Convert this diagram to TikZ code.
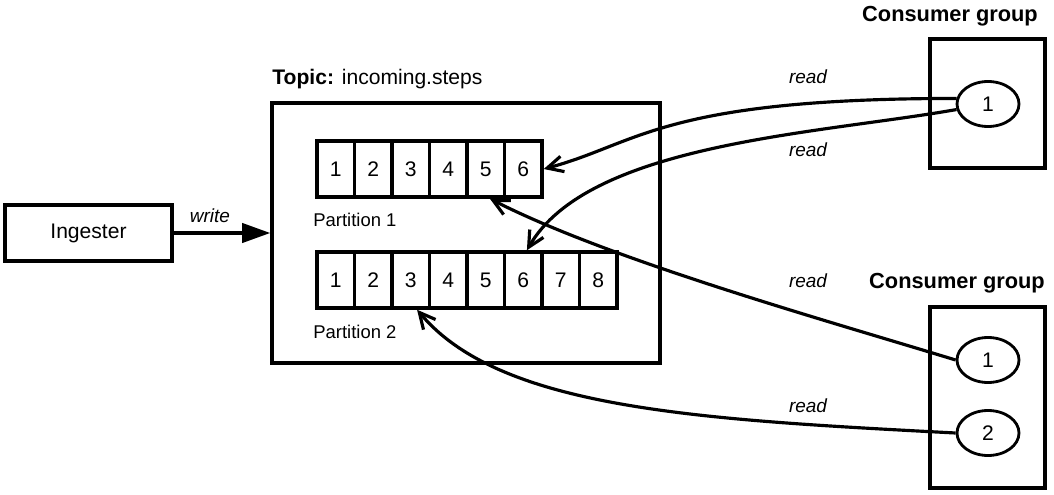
\documentclass[tikz,border=0pt]{standalone}
\usepackage{fontspec}
\setmainfont{Liberation Sans}
\usetikzlibrary{arrows.meta,shapes.geometric}
\begin{document}
\begin{tikzpicture}[x=0.2mm, y=0.2mm]
		\tikzset{box/.style={draw=black, line width=2pt, inner sep=0pt}, cell/.style={box, minimum width=7.5mm, minimum height=11.2mm, font=\fontsize{12}{14}\selectfont}, mem/.style={ellipse, draw=black, line width=1.6pt, minimum width=12.4mm, minimum height=9mm, inner sep=0pt, font=\fontsize{12}{14}\selectfont}, lbl/.style={inner sep=0pt, anchor=base, font=\fontsize{10.8}{13}\selectfont\itshape}, ttl/.style={inner sep=0pt, anchor=base, font=\fontsize{12.4}{15}\selectfont\bfseries}, pname/.style={inner sep=0pt, anchor=base west, font=\fontsize{10.5}{13}\selectfont}, rd/.style={line width=1.8pt, -{Straight Barb[length=9pt, width=9pt]}}};
		\useasboundingbox (0, 0) rectangle (1054, 494);

		\node[box, minimum width=33.4mm, minimum height=11.2mm, font=\fontsize{12}{14}\selectfont] (ing) at (88.5, 261) {Ingester};
		\node[box, minimum width=77.6mm, minimum height=52mm] (topic) at (466, 261) {};
		\node[inner sep=0pt, anchor=base west, font=\fontsize{12}{14}\selectfont] (tname) at (272, 409) {\textbf{Topic:} incoming.steps};

		\node[cell] (p1c1) at (335.75, 325) {1};
		\node[cell] (p1c2) at (373.25, 325) {2};
		\node[cell] (p1c3) at (410.75, 325) {3};
		\node[cell] (p1c4) at (448.25, 325) {4};
		\node[cell] (p1c5) at (485.75, 325) {5};
		\node[cell] (p1c6) at (523.25, 325) {6};
		\node[pname] (p1) at (313, 267) {Partition 1};

		\node[cell] (p2c1) at (335.75, 214) {1};
		\node[cell] (p2c2) at (373.25, 214) {2};
		\node[cell] (p2c3) at (410.75, 214) {3};
		\node[cell] (p2c4) at (448.25, 214) {4};
		\node[cell] (p2c5) at (485.75, 214) {5};
		\node[cell] (p2c6) at (523.25, 214) {6};
		\node[cell] (p2c7) at (560.75, 214) {7};
		\node[cell] (p2c8) at (598.25, 214) {8};
		\node[pname] (p2) at (313, 156) {Partition 2};

		\node[box, minimum width=23mm, minimum height=25.8mm] (g1) at (987.5, 390.5) {};
		\node[ttl] (g1name) at (950, 472) {Consumer group};
		\node[mem] (m1) at (988, 390) {1};

		\node[box, minimum width=23mm, minimum height=36.2mm] (g2) at (987.5, 96.5) {};
		\node[ttl] (g2name) at (957, 206) {Consumer group};
		\node[mem] (n1) at (988, 134) {1};
		\node[mem] (n2) at (988, 61) {2};

		\draw[line width=1.8pt, -{Triangle[length=16pt, width=11pt]}] (ing) -- (topic);
		\node[lbl] (w) at (210, 272) {write};

		\draw[rd] (m1.170) to[out=180, in=15, out looseness=1.8, in looseness=0.6] (p1c6.east);
		\draw[rd] (m1.190) to[out=190, in=60, out looseness=0.8, in looseness=0.7] (p2c6.83);
		\draw[rd] (n1.west) to[out=163, in=-27, looseness=0.7] (p1c5.-82);
		\draw[rd] (n2.west) to[out=177, in=-50, out looseness=1.2, in looseness=0.6] (p2c3.-78);

		\node[lbl] (r1) at (808, 410) {read};
		\node[lbl] (r2) at (808, 338) {read};
		\node[lbl] (r3) at (808, 207) {read};
		\node[lbl] (r4) at (808, 82) {read};

	\end{tikzpicture}
\end{document}
